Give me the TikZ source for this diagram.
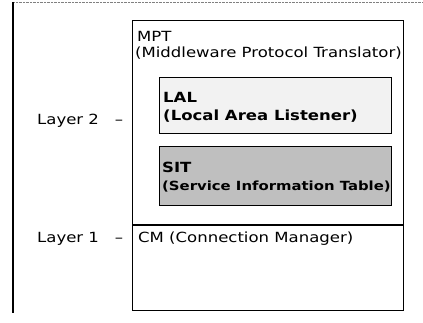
\documentclass[tikz,border=0pt]{standalone}
\usepackage{fontspec}
\setmainfont{DejaVu Sans}[FakeStretch=1.18]
\usetikzlibrary{positioning}

\begin{document}
\begin{tikzpicture}[x=1pt,y=-1pt]
    \tikzset{
        lbl/.style={anchor=base west, inner sep=0pt, font=\fontsize{14}{16}\selectfont},
        boldlbl/.style={lbl, font=\fontsize{14}{16}\selectfont\bfseries},
        box/.style={draw, line width=1pt, anchor=north west, inner sep=0pt},
        subbox/.style={box, line width=1.3pt, minimum width=232pt, minimum height=56pt},
    }
    \useasboundingbox (0,0) rectangle (423,323);
    % page frame
    \draw[densely dotted, gray] (13,2) -- (423,2);
    \draw[line width=1.1pt] (13,2) -- (13,313);
    % MPT over CM
    \node[box, minimum width=271pt, minimum height=290pt] (outer) at (132,20) {};
    \draw[line width=1.6pt] (outer.west |- 0,225) -- (outer.east |- 0,225);
    \node[lbl] (mpt) at (137,42) {MPT};
    \node[lbl] (mptname) at (135,58) {(Middleware Protocol Translator)};
    % LAL and SIT
    \node[subbox, fill=gray!10] (lal) at (159,77) {};
    \node[boldlbl] (laltxt) at (163,103) {LAL};
    \node[boldlbl] (lalname) at (163,121) {(Local Area Listener)};
    \node[subbox, fill=gray!50, minimum height=59pt] (sit) at (159,146) {};
    \node[boldlbl] (sittxt) at (162,173) {SIT};
    \node[boldlbl, font=\fontsize{12.6}{15}\selectfont\bfseries] (sitname) at (162,191) {(Service Information Table)};
    \node[lbl] (cm) at (138,243) {CM (Connection Manager)};
    % layers
    \node[lbl] (layer2) at (37,125) {Layer 2 \ \ –};
    \node[lbl] (layer1) at (37,243) {Layer 1 \ \ –};
\end{tikzpicture}
\end{document}
